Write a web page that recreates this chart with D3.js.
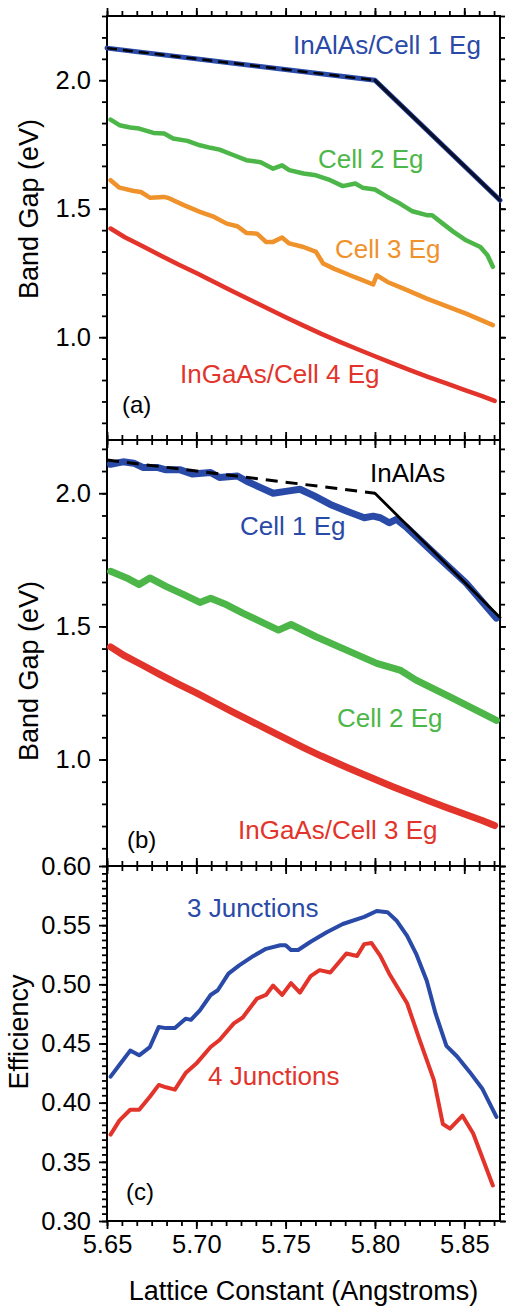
<!DOCTYPE html>
<html>
<head>
<meta charset="UTF-8">
<title>Band gap and efficiency vs lattice constant</title>
<script src="https://cdn.jsdelivr.net/npm/d3@7"></script>
<style>
  body { margin: 0; background: #fff; }
  svg { display: block; font-family: "Liberation Sans", Arial, sans-serif; }
  .tick line { stroke: #000; stroke-width: 1.8px; }
  .tick text { fill: #000; }
</style>
</head>
<body>
<svg id="chart" width="506" height="1306"></svg>
<script>
// ---- data ----
const xTicks = [5.65, 5.70, 5.75, 5.80, 5.85];
const bandTicks = [1.0, 1.5, 2.0];
const effTicks = [0.30, 0.35, 0.40, 0.45, 0.50, 0.55, 0.60];

const inalas = [[5.65, 2.125], [5.80, 2.0], [5.87, 1.533]];

const cell2A = [[5.652,1.847],[5.657,1.825],[5.663,1.816],[5.668,1.812],[5.676,1.795],[5.682,1.793],
  [5.687,1.773],[5.695,1.764],[5.702,1.747],[5.708,1.737],[5.713,1.730],[5.721,1.708],[5.728,1.689],
  [5.736,1.681],[5.743,1.656],[5.748,1.669],[5.752,1.650],[5.760,1.637],[5.767,1.630],[5.775,1.611],
  [5.782,1.588],[5.789,1.598],[5.793,1.582],[5.800,1.575],[5.807,1.546],[5.814,1.520],[5.821,1.490],
  [5.829,1.475],[5.832,1.475],[5.838,1.442],[5.844,1.410],[5.851,1.377],[5.859,1.351],[5.863,1.319],
  [5.866,1.274]];

const cell3A = [[5.652,1.611],[5.657,1.582],[5.665,1.569],[5.669,1.565],[5.674,1.543],[5.682,1.546],
  [5.685,1.540],[5.693,1.514],[5.702,1.488],[5.710,1.468],[5.717,1.442],[5.723,1.432],[5.728,1.406],
  [5.734,1.403],[5.739,1.371],[5.743,1.371],[5.748,1.388],[5.752,1.365],[5.760,1.351],[5.767,1.332],
  [5.771,1.287],[5.777,1.267],[5.786,1.241],[5.793,1.222],[5.799,1.205],[5.801,1.241],[5.807,1.215],
  [5.818,1.183],[5.829,1.150],[5.840,1.121],[5.851,1.092],[5.866,1.047]];

const ingaas = [[5.652,1.423],[5.66,1.389],[5.67,1.354],[5.68,1.318],[5.69,1.283],[5.70,1.250],
  [5.71,1.215],[5.72,1.180],[5.73,1.146],[5.74,1.112],[5.75,1.078],[5.76,1.045],[5.77,1.013],
  [5.78,0.983],[5.79,0.954],[5.80,0.926],[5.81,0.898],[5.82,0.871],[5.83,0.845],[5.84,0.820],
  [5.85,0.795],[5.86,0.771],[5.867,0.752]];

const cell1B = [[5.652,2.109],[5.659,2.118],[5.665,2.113],[5.670,2.097],[5.678,2.097],[5.683,2.088],
  [5.691,2.088],[5.698,2.072],[5.708,2.078],[5.713,2.059],[5.723,2.065],[5.728,2.046],[5.736,2.021],
  [5.743,2.000],[5.752,2.009],[5.758,2.015],[5.766,1.990],[5.775,1.958],[5.784,1.933],[5.794,1.908],
  [5.799,1.914],[5.803,1.908],[5.808,1.889],[5.812,1.902],[5.818,1.870],[5.833,1.775],[5.851,1.663],
  [5.868,1.531]];

const cell2B = [[5.652,1.707],[5.661,1.682],[5.668,1.657],[5.674,1.682],[5.683,1.650],[5.693,1.619],
  [5.702,1.590],[5.708,1.606],[5.717,1.581],[5.726,1.550],[5.736,1.518],[5.746,1.486],[5.753,1.507],
  [5.767,1.461],[5.786,1.405],[5.801,1.361],[5.814,1.336],[5.823,1.298],[5.842,1.235],[5.868,1.147]];

const junctions3 = [[5.652,0.422],[5.657,0.432],[5.663,0.444],[5.668,0.440],[5.674,0.447],[5.679,0.464],
  [5.683,0.463],[5.688,0.463],[5.694,0.471],[5.697,0.470],[5.702,0.478],[5.708,0.491],[5.712,0.495],
  [5.718,0.509],[5.724,0.516],[5.732,0.524],[5.739,0.530],[5.747,0.533],[5.750,0.533],[5.753,0.529],
  [5.757,0.529],[5.764,0.536],[5.773,0.544],[5.782,0.551],[5.794,0.557],[5.801,0.562],[5.807,0.561],
  [5.812,0.554],[5.818,0.541],[5.823,0.526],[5.829,0.503],[5.834,0.475],[5.840,0.448],[5.846,0.439],
  [5.853,0.426],[5.860,0.412],[5.868,0.388]];

const junctions4 = [[5.652,0.373],[5.657,0.385],[5.663,0.394],[5.668,0.394],[5.674,0.405],[5.679,0.415],
  [5.683,0.413],[5.688,0.411],[5.694,0.425],[5.700,0.433],[5.708,0.447],[5.713,0.453],[5.721,0.467],
  [5.726,0.472],[5.734,0.488],[5.739,0.491],[5.743,0.499],[5.748,0.491],[5.753,0.501],[5.758,0.493],
  [5.764,0.507],[5.769,0.512],[5.775,0.510],[5.784,0.526],[5.790,0.524],[5.794,0.534],[5.798,0.535],
  [5.803,0.524],[5.808,0.509],[5.818,0.484],[5.825,0.453],[5.833,0.419],[5.838,0.382],[5.842,0.378],
  [5.849,0.389],[5.855,0.374],[5.866,0.330]];

// ---- layout ----
const left = 107, right = 500;
const blue = "#2a4aa8", green = "#4cb748", orange = "#f0922c", red = "#e2342b";

const svg = d3.select("#chart");
const x = d3.scaleLinear().domain([5.65, 5.87]).range([left, right]);
const xMinor = d3.range(0, 27).map(i => 5.65 + i * 0.05 / 6).filter(v => v <= 5.8701);

const panels = [
  { top: 16, bottom: 440, domain: [0.6, 2.25], major: bandTicks, minorStep: 0.5 / 6, fmt: d3.format(".1f") },
  { top: 440, bottom: 866, domain: [0.6, 2.2], major: bandTicks, minorStep: 0.5 / 6, fmt: d3.format(".1f") },
  { top: 866, bottom: 1221, domain: [0.3, 0.6], major: effTicks, minorStep: 0.05 / 8, fmt: d3.format(".2f") }
];

panels.forEach((p, i) => {
  p.y = d3.scaleLinear().domain(p.domain).range([p.bottom, p.top]);
  const minor = d3.range(-60, 60).map(k => p.major[0] + k * p.minorStep)
    .filter(v => v >= p.domain[0] - 1e-9 && v <= p.domain[1] + 1e-9);

  const g = svg.append("g");
  const axis = (gen, tx, ty, size, fmt) => {
    const a = g.append("g").attr("transform", `translate(${tx},${ty})`)
      .call(gen.tickSize(size).tickSizeOuter(0).tickPadding(8).tickFormat(fmt || ""));
    a.select(".domain").remove();
    a.selectAll("text").style("font-size", "25.5px");
    return a;
  };
  // y axes, outward on both sides
  axis(d3.axisLeft(p.y).tickValues(minor), left, 0, 5);
  axis(d3.axisLeft(p.y).tickValues(p.major), left, 0, 8, p.fmt);
  axis(d3.axisRight(p.y).tickValues(minor), right, 0, 5);
  axis(d3.axisRight(p.y).tickValues(p.major), right, 0, 8);
  // x axes, outward at top and bottom
  axis(d3.axisTop(x).tickValues(xMinor), 0, p.top, 5);
  axis(d3.axisTop(x).tickValues(xTicks), 0, p.top, 8);
  axis(d3.axisBottom(x).tickValues(xMinor), 0, p.bottom, 5);
  const xb = axis(d3.axisBottom(x).tickValues(xTicks), 0, p.bottom, 8, i === 2 ? d3.format(".2f") : null);
  if (i === 2) xb.selectAll("text").attr("y", 14);

  g.append("rect").attr("x", left).attr("y", p.top)
    .attr("width", right - left).attr("height", p.bottom - p.top)
    .attr("fill", "none").attr("stroke", "#000").attr("stroke-width", 2);
});

const [pa, pb, pc] = panels;

function drawLine(p, data, color, width, dash) {
  const line = d3.line().x(d => x(d[0])).y(d => p.y(d[1]));
  svg.append("path").datum(data)
    .attr("d", line)
    .attr("fill", "none")
    .attr("stroke", color)
    .attr("stroke-width", width)
    .attr("stroke-linejoin", "round")
    .attr("stroke-linecap", dash ? "butt" : "round")
    .attr("stroke-dasharray", dash || null);
}

function label(txt, tx, ty, color, size) {
  svg.append("text").attr("x", tx).attr("y", ty)
    .attr("fill", color).style("font-size", (size || 26) + "px").text(txt);
}

const inalasDirect = inalas.filter(d => d[0] <= 5.80);
const inalasIndirect = inalas.filter(d => d[0] >= 5.80);

// panel (a)
drawLine(pa, ingaas, red, 4.5);
drawLine(pa, cell3A, orange, 4.5);
drawLine(pa, cell2A, green, 4.5);
drawLine(pa, inalas, blue, 5);
drawLine(pa, inalasDirect, "#000", 2.5, "10,6");
drawLine(pa, inalasIndirect, "#0a0f2a", 3.2);

label("InAlAs/Cell 1 Eg", 293, 54, blue);
label("Cell 2 Eg", 318, 168, green);
label("Cell 3 Eg", 335, 258, orange);
label("InGaAs/Cell 4 Eg", 180, 383, red);
label("(a)", 122, 413, "#000", 24);

// panel (b)
drawLine(pb, ingaas, red, 7);
drawLine(pb, cell2B, green, 7);
drawLine(pb, cell1B, blue, 7);
drawLine(pb, inalasDirect, "#000", 3, "12,8");
drawLine(pb, inalasIndirect, "#000", 2.8);

label("InAlAs", 370, 482, "#000");
label("Cell 1 Eg", 240, 535, blue);
label("Cell 2 Eg", 337, 727, green);
label("InGaAs/Cell 3 Eg", 238, 839, red);
label("(b)", 127, 848, "#000", 24);

// panel (c)
drawLine(pc, junctions4, red, 4);
drawLine(pc, junctions3, blue, 4);
label("3 Junctions", 187, 917, blue);
label("4 Junctions", 208, 1085, red);
label("(c)", 126, 1200, "#000", 24);

// axis titles
svg.append("text").attr("transform", "translate(38,209) rotate(-90)")
  .attr("text-anchor", "middle").style("font-size", "27px").text("Band Gap (eV)");
svg.append("text").attr("transform", "translate(38,671) rotate(-90)")
  .attr("text-anchor", "middle").style("font-size", "27px").text("Band Gap (eV)");
svg.append("text").attr("transform", "translate(28,1032) rotate(-90)")
  .attr("text-anchor", "middle").style("font-size", "27px").text("Efficiency");
svg.append("text").attr("x", 303.5).attr("y", 1300)
  .attr("text-anchor", "middle").style("font-size", "27px").text("Lattice Constant (Angstroms)");
</script>
</body>
</html>
